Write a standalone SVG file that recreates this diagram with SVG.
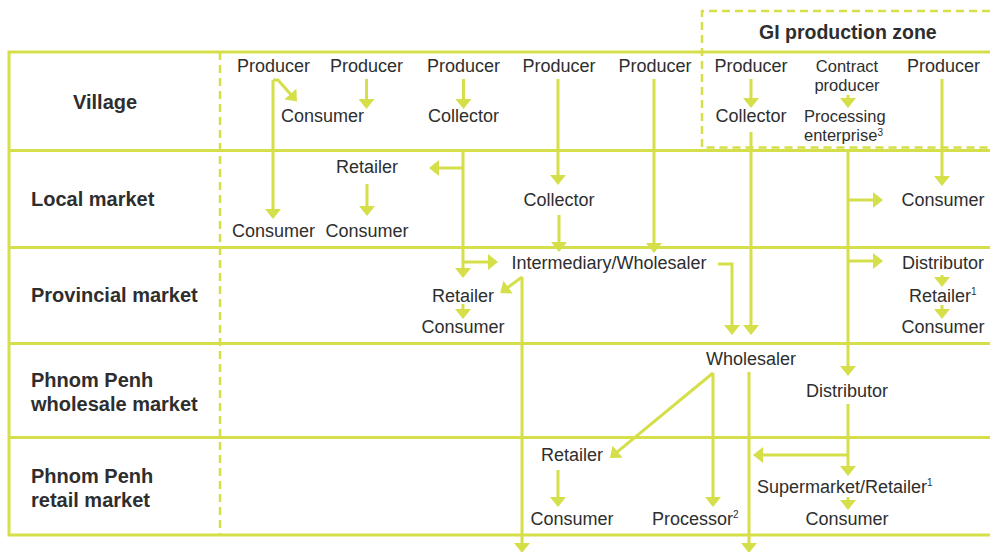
<svg xmlns="http://www.w3.org/2000/svg" width="990" height="552" viewBox="0 0 990 552">
<style>
.g{fill:none;stroke:#d5df4a;stroke-width:3}
.d{fill:none;stroke:#d5df4a;stroke-width:2.5;stroke-dasharray:8 5}
.c path{fill:none;stroke:#d5df4a;stroke-width:3;marker-end:url(#ah)}
text{font-family:"Liberation Sans",Arial,sans-serif;fill:#2e2e2e}
.t{font-size:18px;text-anchor:middle}
.s{font-size:18px}
.t2{font-size:16.5px;text-anchor:middle}
.s2{font-size:16.5px}
.b{font-size:20px;font-weight:bold}
.sup{font-size:10px}
</style>
<defs>
<marker id="ah" viewBox="0 0 10 16" refX="4" refY="8" markerWidth="10" markerHeight="16" markerUnits="userSpaceOnUse" orient="auto">
<path d="M0,0 L10,8 L0,16z" fill="#d5df4a"/>
</marker>
</defs>
<rect width="990" height="552" fill="#fff"/>
<g id="table">
<path class="g" d="M990,52 H9 V535 H990"/>
<path class="g" d="M9,150.5 H990 M9,247.5 H990 M9,343.5 H990 M9,437.5 H990"/>
<path class="d" d="M220,52 V535"/>
</g>
<g id="gi-zone">
<path class="d" d="M990,11 H702 V147.5 H990"/>
<text class="b" x="759" y="39" style="font-size:19.5px">GI production zone</text>
</g>
<g id="row-labels">
<text class="b" x="73" y="109">Village</text>
<text class="b" x="31" y="206">Local market</text>
<text class="b" x="31" y="302">Provincial market</text>
<text class="b" x="31" y="387">Phnom Penh</text>
<text class="b" x="31" y="411">wholesale market</text>
<text class="b" x="31" y="483">Phnom Penh</text>
<text class="b" x="31" y="507">retail market</text>
</g>
<g id="connectors" class="c">
<path d="M273,80 V213"/>
<path d="M273,80 H278 L293,97"/>
<path d="M366.5,79 V103"/>
<path d="M463.5,79 V103"/>
<path d="M558,79 V179"/>
<path d="M654,79 V247"/>
<path d="M751,79 V102"/>
<path d="M848,95 V102"/>
<path d="M942,79 V180"/>
<path d="M463,150 V272"/>
<path d="M463,168 H435"/>
<path d="M463,262 H492"/>
<path d="M367,184 V210"/>
<path d="M559,215 V246"/>
<path d="M718,264 H732 V329"/>
<path d="M751,132 V329"/>
<path d="M522,277 V547"/>
<path d="M522,277 L505,289.5"/>
<path d="M463,304 V313"/>
<path d="M848,150 V370"/>
<path d="M848,200 H877"/>
<path d="M848,261 H877"/>
<path d="M942,275 V281"/>
<path d="M942,305 V313"/>
<path d="M713,373 L614.6,454.2"/>
<path d="M713,373 V501"/>
<path d="M749,372 V547"/>
<path d="M848,404 V470"/>
<path d="M848,455 H759"/>
<path d="M848,497 V504"/>
<path d="M558,470 V501"/>
</g>
<g id="n-producer1"><text class="t" x="273.5" y="72">Producer</text></g>
<g id="n-producer2"><text class="t" x="366.5" y="72">Producer</text></g>
<g id="n-producer3"><text class="t" x="463.5" y="72">Producer</text></g>
<g id="n-producer4"><text class="t" x="559" y="72">Producer</text></g>
<g id="n-producer5"><text class="t" x="655" y="72">Producer</text></g>
<g id="n-producer6"><text class="t" x="751" y="72">Producer</text></g>
<g id="n-contract-producer"><text class="t2" x="847" y="72">Contract</text><text class="t2" x="847" y="90.5">producer</text></g>
<g id="n-producer7"><text class="t" x="943.5" y="72">Producer</text></g>
<g id="n-village-consumer"><text class="t" x="322.5" y="122">Consumer</text></g>
<g id="n-village-collector"><text class="t" x="463.5" y="122">Collector</text></g>
<g id="n-gi-collector"><text class="t" x="751" y="122">Collector</text></g>
<g id="n-processing"><text class="s2" x="804" y="122">Processing</text><text class="s2" x="804" y="140.5">enterprise<tspan class="sup" dy="-5">3</tspan></text></g>
<g id="n-local-retailer"><text class="t" x="367" y="173">Retailer</text></g>
<g id="n-local-consumer1"><text class="t" x="273.5" y="237">Consumer</text></g>
<g id="n-local-consumer2"><text class="t" x="367" y="237">Consumer</text></g>
<g id="n-local-collector"><text class="t" x="559" y="206">Collector</text></g>
<g id="n-local-consumer3"><text class="t" x="943" y="206">Consumer</text></g>
<g id="n-intermediary"><text class="t" x="609" y="269">Intermediary/Wholesaler</text></g>
<g id="n-prov-distributor"><text class="t" x="943" y="269">Distributor</text></g>
<g id="n-prov-retailer"><text class="t" x="463" y="302">Retailer</text></g>
<g id="n-prov-retailer1"><text class="s" x="909" y="302">Retailer<tspan class="sup" dy="-7">1</tspan></text></g>
<g id="n-prov-consumer1"><text class="t" x="463" y="333">Consumer</text></g>
<g id="n-prov-consumer2"><text class="t" x="943" y="333">Consumer</text></g>
<g id="n-wholesaler"><text class="t" x="751" y="365">Wholesaler</text></g>
<g id="n-pp-distributor"><text class="t" x="847" y="397">Distributor</text></g>
<g id="n-pp-retailer"><text class="t" x="572" y="461">Retailer</text></g>
<g id="n-supermarket"><text class="s" x="757" y="493">Supermarket/Retailer<tspan class="sup" dy="-7">1</tspan></text></g>
<g id="n-pp-consumer1"><text class="t" x="572" y="525">Consumer</text></g>
<g id="n-processor"><text class="s" x="652" y="525">Processor<tspan class="sup" dy="-7">2</tspan></text></g>
<g id="n-pp-consumer2"><text class="t" x="847" y="525">Consumer</text></g>
</svg>
